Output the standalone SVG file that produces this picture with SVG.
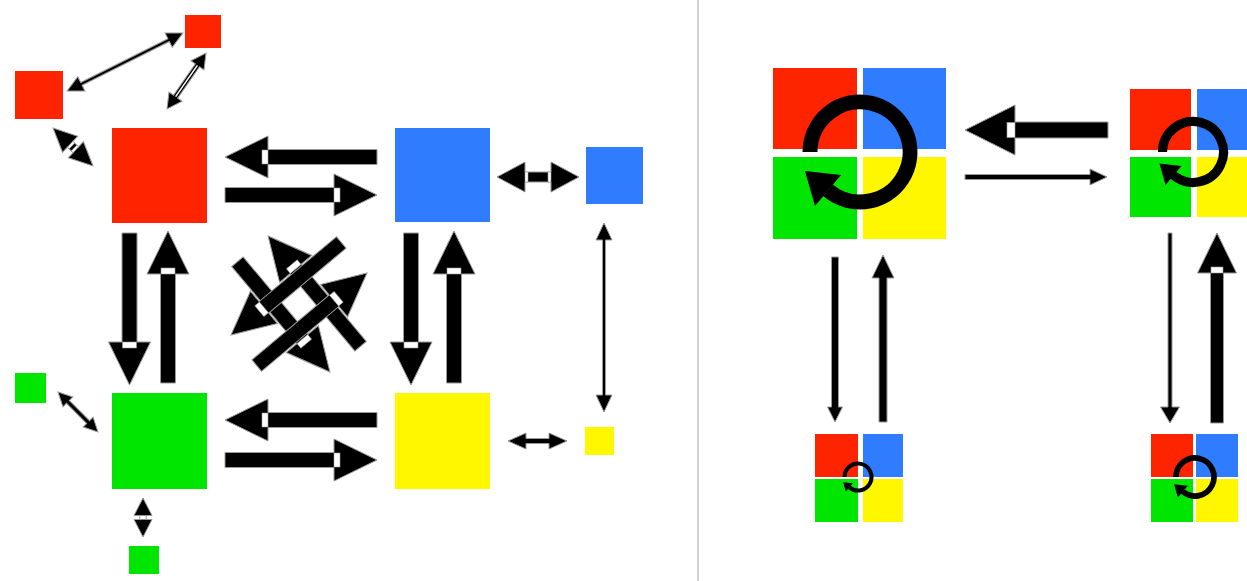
<svg xmlns="http://www.w3.org/2000/svg" xmlns:xlink="http://www.w3.org/1999/xlink" width="1247" height="581" viewBox="0 0 1247 581">
<style>
.r{fill:#FF2400}.b{fill:#2F7CFF}.g{fill:#00E600}.y{fill:#FFF700}
.a{fill:#000;stroke:#9a9a9a;stroke-width:1;stroke-linejoin:miter}
.w{fill:#fff;stroke:#9a9a9a;stroke-width:0.6}
.arc{fill:none;stroke:#000;stroke-width:15}
</style>
<defs>
<g id="big">
<path class="a" d="M0,-7.5 H109 V-21 L152,0 L109,21 V7.5 H0 Z"/>
<rect class="w" x="109" y="-7" width="6" height="14"/>
</g>
<g id="mid">
<path class="a" d="M0,-7.5 H101 V-21 L144,0 L101,21 V7.5 H0 Z"/>
<rect class="w" x="101" y="-7" width="6" height="14"/>
</g>
<g id="rot">
<path class="arc" d="M-50,0 A50,50 0 1 1 -32.1,38.3"/>
<path d="M-45,54 L-19,23 L-55,19 Z" fill="#000"/>
</g>
</defs>
<rect width="1247" height="581" fill="#fff"/>
<line x1="698" y1="0" x2="698" y2="581" stroke="#b4b4b4" stroke-width="1.2"/>

<g id="red-small-top"><rect class="r" x="185" y="15" width="36" height="33"/></g>
<g id="red-small-left"><rect class="r" x="15" y="71" width="48" height="48"/></g>
<g id="red-big"><rect class="r" x="112" y="128" width="95" height="95"/></g>
<g id="blue-big"><rect class="b" x="395" y="128" width="95" height="94"/></g>
<g id="blue-small"><rect class="b" x="586" y="147" width="57" height="57"/></g>
<g id="green-big"><rect class="g" x="112" y="393" width="95" height="96"/></g>
<g id="green-small-left"><rect class="g" x="15" y="373" width="31" height="30"/></g>
<g id="green-small-bottom"><rect class="g" x="129" y="546" width="30" height="28"/></g>
<g id="yellow-big"><rect class="y" x="395" y="393" width="95" height="96"/></g>
<g id="yellow-small"><rect class="y" x="585" y="427" width="29" height="28"/></g>

<g id="cycle-big">
<rect class="r" x="773" y="68" width="84" height="81"/>
<rect class="b" x="863" y="68" width="83" height="81"/>
<rect class="g" x="773" y="157" width="84" height="82"/>
<rect class="y" x="863" y="157" width="83" height="82"/>
<use xlink:href="#rot" transform="translate(860,152)"/>
</g>
<g id="cycle-topright">
<rect class="r" x="1130" y="89" width="61" height="61"/>
<rect class="b" x="1197" y="89" width="61" height="61"/>
<rect class="g" x="1130" y="157" width="61" height="60"/>
<rect class="y" x="1197" y="157" width="61" height="60"/>
<use xlink:href="#rot" transform="translate(1193,152) scale(0.61)"/>
</g>
<g id="cycle-small-left">
<rect class="r" x="815" y="434" width="43" height="43"/>
<rect class="b" x="863" y="434" width="40" height="43"/>
<rect class="g" x="815" y="479" width="43" height="43"/>
<rect class="y" x="863" y="479" width="40" height="43"/>
<use xlink:href="#rot" transform="translate(858,477) scale(0.27)"/>
</g>
<g id="cycle-small-right">
<rect class="r" x="1151" y="434" width="42" height="43"/>
<rect class="b" x="1196" y="434" width="42" height="43"/>
<rect class="g" x="1151" y="479" width="42" height="43"/>
<rect class="y" x="1196" y="479" width="42" height="43"/>
<use xlink:href="#rot" transform="translate(1195,477) scale(0.38)"/>
</g>

<g id="connectors">
<use xlink:href="#big" transform="translate(377,157) rotate(180)"/>
<use xlink:href="#big" transform="translate(225,195)"/>
<use xlink:href="#big" transform="translate(129.5,233) rotate(90)"/>
<use xlink:href="#big" transform="translate(168,383) rotate(-90)"/>
<use xlink:href="#big" transform="translate(411,233) rotate(90)"/>
<use xlink:href="#big" transform="translate(454,383) rotate(-90)"/>
<use xlink:href="#big" transform="translate(377,420) rotate(180)"/>
<use xlink:href="#big" transform="translate(225,460)"/>
<g transform="translate(299,304) rotate(50)">
<use xlink:href="#mid" transform="translate(72,-20) rotate(180)"/>
<use xlink:href="#mid" transform="translate(-72,20)"/>
<use xlink:href="#mid" transform="translate(20,72) rotate(-90)"/>
<use xlink:href="#mid" transform="translate(-20,-72) rotate(90)"/>
</g>
<path class="a" transform="translate(125,62) rotate(-26.6)" d="M-64.8,0 L-48.8,-8 L-48.8,-1.5 L48.8,-1.5 L48.8,-8 L64.8,0 L48.8,8 L48.8,1.5 L-48.8,1.5 L-48.8,8 Z"/>
<g transform="translate(186.5,81) rotate(124.9)">
<path class="a" d="M-34.1,0 L-19.1,-8 L-19.1,-2.5 L19.1,-2.5 L19.1,-8 L34.1,0 L19.1,8 L19.1,2.5 L-19.1,2.5 L-19.1,8 Z"/>
<line x1="-19" y1="0" x2="19" y2="0" stroke="#fff" stroke-width="1.5"/>
</g>
<g transform="translate(73,147) rotate(43.5)">
<path class="a" d="M-27.6,0 L-4,-11 L-4,-4 L4,-4 L4,-11 L27.6,0 L4,11 L4,4 L-4,4 L-4,11 Z"/>
<rect class="w" x="-4" y="-4" width="2.5" height="8"/><rect class="w" x="1.5" y="-4" width="2.5" height="8"/>
</g>
<g transform="translate(538,177)">
<path class="a" d="M-41,0 L-13,-15 L-13,-5 L13,-5 L13,-15 L41,0 L13,15 L13,5 L-13,5 L-13,15 Z"/>
<rect class="w" x="-13" y="-5" width="3" height="10"/><rect class="w" x="10" y="-5" width="3" height="10"/>
</g>
<path class="a" transform="translate(604,317.5) rotate(90)" d="M-94.5,0 L-77.5,-8 L-77.5,-1.5 L77.5,-1.5 L77.5,-8 L94.5,0 L77.5,8 L77.5,1.5 L-77.5,1.5 L-77.5,8 Z"/>
<path class="a" transform="translate(537.5,441)" d="M-29.5,0 L-11.5,-8 L-11.5,-2.5 L11.5,-2.5 L11.5,-8 L29.5,0 L11.5,8 L11.5,2.5 L-11.5,2.5 L-11.5,8 Z"/>
<path class="a" transform="translate(78,412) rotate(45)" d="M-28.3,0 L-14.3,-7 L-14.3,-2 L14.3,-2 L14.3,-7 L28.3,0 L14.3,7 L14.3,2 L-14.3,2 L-14.3,7 Z"/>
<g transform="translate(143,517.5) rotate(90)">
<path class="a" d="M-19.5,0 L-2,-9 L-2,-3 L2,-3 L2,-9 L19.5,0 L2,9 L2,3 L-2,3 L-2,9 Z"/>
<rect class="w" x="-2" y="-3" width="4" height="6"/>
</g>
<g transform="translate(1108,130) rotate(180)">
<path class="a" d="M0,-8 H93 V-25 L143,0 L93,25 V8 H0 Z"/>
<rect class="w" x="93" y="-7.5" width="8" height="15"/>
</g>
<path class="a" transform="translate(965,177)" d="M0,-2.5 H125 V-8 L142,0 L125,8 V2.5 H0 Z"/>
<path class="a" transform="translate(835,257) rotate(90)" d="M0,-3.5 H150 V-7.5 L165,0 L150,7.5 V3.5 H0 Z"/>
<path class="a" transform="translate(883,422) rotate(-90)" d="M0,-4 H144 V-11 L167,0 L144,11 V4 H0 Z"/>
<path class="a" transform="translate(1170,233) rotate(90)" d="M0,-2 H174 V-9.5 L190,0 L174,9.5 V2 H0 Z"/>
<g transform="translate(1217,423) rotate(-90)">
<path class="a" d="M0,-6.5 H150 V-19.5 L190,0 L150,19.5 V6.5 H0 Z"/>
<rect class="w" x="150" y="-6" width="6" height="12"/>
</g>
</g>
</svg>
